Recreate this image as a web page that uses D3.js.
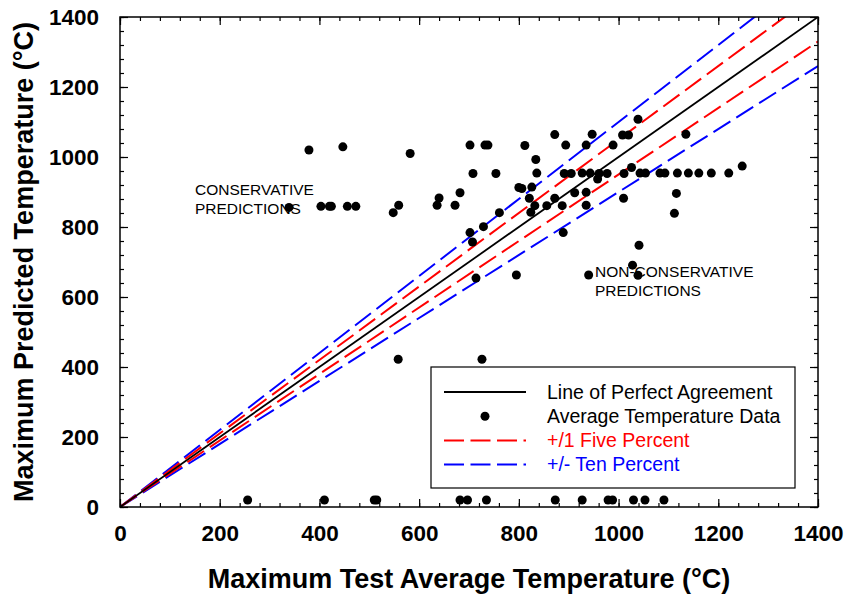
<!DOCTYPE html>
<html>
<head>
<meta charset="utf-8">
<script src="https://cdn.jsdelivr.net/npm/d3@7"></script>
<style>
  body { margin: 0; background: #fff; }
  svg { font-family: "Liberation Sans", Arial, sans-serif; }
</style>
</head>
<body>
<svg id="chart"></svg>
<script>
// measured test temperature (x) and predicted temperature (y), deg C
var testTemp = [
  256, 410, 510, 515, 682, 697, 735, 873, 927, 979, 988, 1030, 1053, 1091,
  558, 726,
  379, 447, 582,
  339, 403, 420, 424, 456, 473,
  548, 559, 636, 640, 672, 682,
  702, 732, 738, 812, 872, 894, 935, 947, 989, 1008, 1020, 1039, 1135,
  834,
  708, 754, 836, 891, 905, 927, 943, 961, 977, 1011, 1043, 1054, 1083, 1093, 1118, 1140, 1161, 1186, 1221,
  958, 1026, 1248,
  800, 806, 826, 912, 935, 1116,
  821, 872, 1010,
  832, 856, 887, 935,
  824, 761, 1112,
  889, 702, 707, 729,
  714, 795, 940, 1039, 1028, 1041
];
var predTemp = [
  20, 20, 20, 20, 20, 20, 20, 20, 20, 20, 20, 20, 20, 20,
  422, 422,
  1020, 1029, 1010,
  856, 859, 859, 859, 859, 859,
  841, 862, 862, 883, 862, 898,
  1034, 1034, 1034, 1033, 1064, 1034, 1034, 1065, 1034, 1063, 1063, 1108, 1065,
  993,
  953, 953, 954, 953, 953, 954, 954, 953, 953, 953, 954, 954, 954, 954, 954, 954, 954, 954, 954,
  937, 970, 974,
  913, 910, 914, 898, 899, 896,
  882, 882, 882,
  861, 861, 861, 862,
  842, 841, 839,
  784, 784, 757, 801,
  654, 663, 663, 662, 691, 748
];

// agreement lines: y = factor * x
var lineFactors = [1.10, 0.90, 1.05, 0.95, 1.00];
var lineColors  = ["#0000ff", "#0000ff", "#ff0000", "#ff0000", "#000000"];

var majorTicks = [0, 200, 400, 600, 800, 1000, 1200, 1400];
var minorTicks = d3.range(0, 1401, 40);

var legendLabels = ["Line of Perfect Agreement", "Average Temperature Data", "+/1 Five Percent", "+/- Ten Percent"];
var legendColors = ["#000000", "#000000", "#ff0000", "#0000ff"];

var svgWidth = 847, svgHeight = 597;
var margin = {top: 17, left: 120, right: 29, bottom: 90};
var width = svgWidth - margin.left - margin.right;
var height = svgHeight - margin.top - margin.bottom;

var svg = d3.select("#chart")
    .attr("width", svgWidth)
    .attr("height", svgHeight);

var g = svg.append("g")
    .attr("transform", "translate(" + margin.left + "," + margin.top + ")");

var x = d3.scaleLinear().domain([0, 1400]).range([0, width]);
var y = d3.scaleLinear().domain([0, 1400]).range([height, 0]);

g.append("clipPath").attr("id", "clip")
  .append("rect").attr("width", width).attr("height", height);

// reference lines
var lines = g.append("g").attr("clip-path", "url(#clip)");
lineFactors.forEach(function (f, i) {
    lines.append("line")
        .attr("x1", x(0)).attr("y1", y(0))
        .attr("x2", x(1400)).attr("y2", y(1400 * f))
        .attr("stroke", lineColors[i])
        .attr("stroke-width", f === 1 ? 1.8 : 2)
        .attr("stroke-dasharray", f === 1 ? null : "20,7");
});

// data points
g.selectAll("circle.pt")
    .data(testTemp)
    .enter()
    .append("circle")
    .attr("class", "pt")
    .attr("cx", function (d) { return x(d); })
    .attr("cy", function (d, i) { return y(predTemp[i]); })
    .attr("r", 4.5)
    .attr("fill", "#000");

// axes: ticks on all four sides, pointing inward
function styleAxis(sel) {
    sel.select(".domain").remove();
    sel.selectAll("line").attr("stroke", "#000").attr("stroke-width", 1.2);
}
var fmt = d3.format("d");

var gx = g.append("g").attr("transform", "translate(0," + height + ")");
gx.append("g").call(d3.axisBottom(x).tickValues(minorTicks).tickSize(-4).tickFormat("")).call(styleAxis);
gx.append("g").call(d3.axisBottom(x).tickValues(majorTicks).tickSize(-8).tickPadding(18).tickFormat(fmt)).call(styleAxis);

var gxt = g.append("g");
gxt.append("g").call(d3.axisTop(x).tickValues(minorTicks).tickSize(-4).tickFormat("")).call(styleAxis);
gxt.append("g").call(d3.axisTop(x).tickValues(majorTicks).tickSize(-8).tickFormat("")).call(styleAxis);

var gy = g.append("g");
gy.append("g").call(d3.axisLeft(y).tickValues(minorTicks).tickSize(-4).tickFormat("")).call(styleAxis);
gy.append("g").call(d3.axisLeft(y).tickValues(majorTicks).tickSize(-8).tickPadding(21).tickFormat(fmt)).call(styleAxis);

var gyr = g.append("g").attr("transform", "translate(" + width + ",0)");
gyr.append("g").call(d3.axisRight(y).tickValues(minorTicks).tickSize(-4).tickFormat("")).call(styleAxis);
gyr.append("g").call(d3.axisRight(y).tickValues(majorTicks).tickSize(-8).tickFormat("")).call(styleAxis);

g.selectAll(".tick text")
    .attr("font-family", "'Liberation Sans', Arial, sans-serif")
    .attr("font-size", 22.5)
    .attr("font-weight", "bold")
    .attr("fill", "#000");
gx.selectAll(".tick text").attr("dy", "0.71em");

// frame
g.append("rect")
    .attr("width", width).attr("height", height)
    .attr("fill", "none").attr("stroke", "#000").attr("stroke-width", 1.5);

// axis titles
svg.append("text")
    .attr("x", margin.left + width / 2)
    .attr("y", 588)
    .attr("text-anchor", "middle")
    .attr("font-size", 27)
    .attr("font-weight", "bold")
    .text("Maximum Test Average Temperature (°C)");

svg.append("text")
    .attr("transform", "translate(33," + (margin.top + height / 2) + ") rotate(-90)")
    .attr("text-anchor", "middle")
    .attr("font-size", 27)
    .attr("font-weight", "bold")
    .text("Maximum Predicted Temperature (°C)");

// annotations
var cons = svg.append("text").attr("font-size", 15.5).attr("fill", "#000");
cons.append("tspan").attr("x", 195).attr("y", 195).text("CONSERVATIVE");
cons.append("tspan").attr("x", 195).attr("y", 214).text("PREDICTIONS");

var noncons = svg.append("text").attr("font-size", 15.5).attr("fill", "#000");
noncons.append("tspan").attr("x", 595).attr("y", 277).text("NON-CONSERVATIVE");
noncons.append("tspan").attr("x", 595).attr("y", 296).text("PREDICTIONS");

// legend
var legend = svg.append("g").attr("transform", "translate(431,367)");
legend.append("rect")
    .attr("width", 364).attr("height", 121)
    .attr("fill", "#fff").attr("stroke", "#000").attr("stroke-width", 1.2);

legendLabels.forEach(function (label, i) {
    var ly = 25 + i * 24.2;
    if (i === 1) {
        legend.append("circle").attr("cx", 54).attr("cy", ly).attr("r", 4.5).attr("fill", "#000");
    } else {
        legend.append("line")
            .attr("x1", 13).attr("x2", 95)
            .attr("y1", ly).attr("y2", ly)
            .attr("stroke", legendColors[i])
            .attr("stroke-width", i === 0 ? 1.8 : 2)
            .attr("stroke-dasharray", i === 0 ? null : "20,6.5");
    }
    legend.append("text")
        .attr("x", 116).attr("y", ly)
        .attr("dy", "0.35em")
        .attr("font-size", 19.5)
        .attr("fill", legendColors[i])
        .text(label);
});
</script>
</body>
</html>
